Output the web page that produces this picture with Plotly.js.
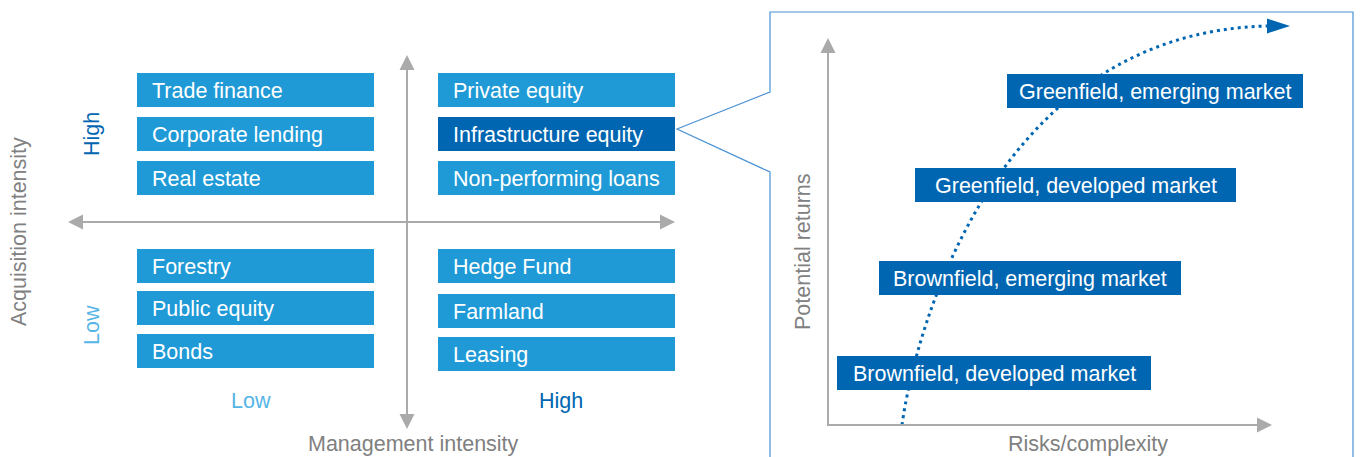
<!DOCTYPE html>
<html>
<head>
<meta charset="utf-8">
<script src="https://cdn.plot.ly/plotly-3.0.1.min.js"></script>
<style>html,body{margin:0;padding:0;background:#fff;}#chart{width:1363px;height:457px;}</style>
</head>
<body>
<div id="chart"></div>
<script>
// ---- Content (data) ----
const highAcqLowMgmt = ['Trade finance', 'Corporate lending', 'Real estate'];
const highAcqHighMgmt = ['Private equity', 'Infrastructure equity', 'Non-performing loans'];
const lowAcqLowMgmt = ['Forestry', 'Public equity', 'Bonds'];
const lowAcqHighMgmt = ['Hedge Fund', 'Farmland', 'Leasing'];
const highlightedItem = 'Infrastructure equity';
const levelLabels = ['Low', 'High'];
const axisTitlesLeft = ['Management intensity', 'Acquisition intensity'];
const stageLabels = ['Brownfield, developed market', 'Brownfield, emerging market',
                     'Greenfield, developed market', 'Greenfield, emerging market'];
const axisTitlesRight = ['Risks/complexity', 'Potential returns'];

// ---- Layout geometry (pixel space of the figure) ----
const FONT = 'Liberation Sans, Arial, Helvetica, sans-serif';
const FS = 21.5;
const LIGHT = '#1f9ad6', DARK = '#0066b2', LOWC = '#55b5e6', GREY = '#808080', AX = '#aaaaaa', FRAME = '#4a92d4';
const BOX_H = 34;
const groups = [
  {items: highAcqLowMgmt, x0: 137, x1: 374, tops: [73, 117, 161]},
  {items: highAcqHighMgmt, x0: 438, x1: 675, tops: [73, 117, 161]},
  {items: lowAcqLowMgmt, x0: 137, x1: 374, tops: [249, 291, 334]},
  {items: lowAcqHighMgmt, x0: 438, x1: 675, tops: [249, 294, 337]}
];
const stageBoxes = [
  {x0: 837, x1: 1151, y0: 356},
  {x0: 879, x1: 1181, y0: 261},
  {x0: 915, x1: 1236, y0: 168},
  {x0: 1007, x1: 1303, y0: 74}
];

const shapes = [];
const annotations = [];

function tri(tip, dir, len, half) {
  const [x, y] = tip;
  let p;
  if (dir === 'up') p = [[x, y], [x - half, y + len], [x + half, y + len]];
  else if (dir === 'down') p = [[x, y], [x - half, y - len], [x + half, y - len]];
  else if (dir === 'left') p = [[x, y], [x + len, y - half], [x + len, y + half]];
  else p = [[x, y], [x - len, y - half], [x - len, y + half]];
  return 'M' + p.map(q => q[0] + ',' + q[1]).join(' L') + ' Z';
}
function arrowLine(x0, y0, x1, y1, color, width) {
  shapes.push({type: 'line', xref: 'x', yref: 'y', x0, y0, x1, y1, line: {color, width}});
}
function arrowHead(tip, dir, color, len, half) {
  shapes.push({type: 'path', xref: 'x', yref: 'y', path: tri(tip, dir, len, half),
               fillcolor: color, line: {width: 0}});
}

// Left quadrant boxes
groups.forEach(g => {
  g.items.forEach((name, i) => {
    const y0 = g.tops[i];
    shapes.push({type: 'rect', xref: 'x', yref: 'y', x0: g.x0, x1: g.x1, y0, y1: y0 + BOX_H,
                 fillcolor: name === highlightedItem ? DARK : LIGHT, line: {width: 0}, layer: 'below'});
    annotations.push({x: g.x0 + 13, y: y0 + BOX_H / 2 + 0.5, xref: 'x', yref: 'y', text: name,
                      showarrow: false, xanchor: 'left', yanchor: 'middle',
                      font: {family: FONT, size: FS, color: '#ffffff'}});
  });
});

// Left axes (cross with arrowheads)
arrowLine(80, 222, 663, 222, AX, 2);
arrowHead([68, 222], 'left', AX, 15, 7.5);
arrowHead([675, 222], 'right', AX, 15, 7.5);
arrowLine(407, 67, 407, 417, AX, 2);
arrowHead([407, 55], 'up', AX, 15, 7.5);
arrowHead([407, 429], 'down', AX, 15, 7.5);

// Left axis labels
annotations.push({x: 251, y: 401, xref: 'x', yref: 'y', text: levelLabels[0], showarrow: false,
                  font: {family: FONT, size: FS, color: LOWC}});
annotations.push({x: 561, y: 401, xref: 'x', yref: 'y', text: levelLabels[1], showarrow: false,
                  font: {family: FONT, size: FS, color: DARK}});
annotations.push({x: 413, y: 444, xref: 'x', yref: 'y', text: axisTitlesLeft[0], showarrow: false,
                  font: {family: FONT, size: FS, color: GREY}});
annotations.push({x: 92, y: 325, xref: 'x', yref: 'y', text: levelLabels[0], showarrow: false, textangle: -90,
                  font: {family: FONT, size: FS, color: LOWC}});
annotations.push({x: 92, y: 134, xref: 'x', yref: 'y', text: levelLabels[1], showarrow: false, textangle: -90,
                  font: {family: FONT, size: FS, color: DARK}});
annotations.push({x: 19, y: 232, xref: 'x', yref: 'y', text: axisTitlesLeft[1], showarrow: false, textangle: -90,
                  font: {family: FONT, size: FS, color: GREY}});

// Callout frame
shapes.push({type: 'path', xref: 'x', yref: 'y',
             path: 'M770,470 L770,172 L677,129 L770,92 L770,12 L1353,12 L1353,470',
             line: {color: FRAME, width: 1.2}, fillcolor: 'rgba(0,0,0,0)'});

// Right axes
arrowLine(828, 425, 828, 50, AX, 2);
arrowHead([828, 38], 'up', AX, 15, 7.5);
arrowLine(827, 425, 1260, 425, AX, 2);
arrowHead([1272, 425], 'right', AX, 15, 7.5);
annotations.push({x: 1088, y: 444, xref: 'x', yref: 'y', text: axisTitlesRight[0], showarrow: false,
                  font: {family: FONT, size: FS, color: GREY}});
annotations.push({x: 803, y: 252, xref: 'x', yref: 'y', text: axisTitlesRight[1], showarrow: false, textangle: -90,
                  font: {family: FONT, size: FS, color: GREY}});

// Dotted trajectory curve with arrowhead
shapes.push({type: 'path', xref: 'x', yref: 'y',
             path: 'M902,425 C915,330 995,32 1268,26',
             line: {color: DARK, width: 3, dash: '3px,4px'}, fillcolor: 'rgba(0,0,0,0)', layer: 'below'});
arrowHead([1290, 26], 'right', DARK, 23, 7.5);

// Stage boxes
stageLabels.forEach((name, i) => {
  const b = stageBoxes[i];
  shapes.push({type: 'rect', xref: 'x', yref: 'y', x0: b.x0, x1: b.x1, y0: b.y0, y1: b.y0 + BOX_H,
               fillcolor: DARK, line: {width: 0}});
  annotations.push({x: (b.x0 + b.x1) / 2, y: b.y0 + BOX_H / 2 + 0.5, xref: 'x', yref: 'y', text: name,
                    showarrow: false, xanchor: 'center', yanchor: 'middle',
                    font: {family: FONT, size: FS, color: '#ffffff'}});
});

const layout = {
  width: 1363, height: 457,
  margin: {l: 0, r: 0, t: 0, b: 0, pad: 0},
  paper_bgcolor: '#ffffff', plot_bgcolor: '#ffffff',
  showlegend: false,
  xaxis: {range: [0, 1363], visible: false, fixedrange: true},
  yaxis: {range: [457, 0], visible: false, fixedrange: true},
  shapes, annotations
};

Plotly.newPlot('chart', [{x: [], y: [], type: 'scatter', mode: 'markers', hoverinfo: 'skip'}], layout,
               {staticPlot: true, displayModeBar: false});
</script>
</body>
</html>
